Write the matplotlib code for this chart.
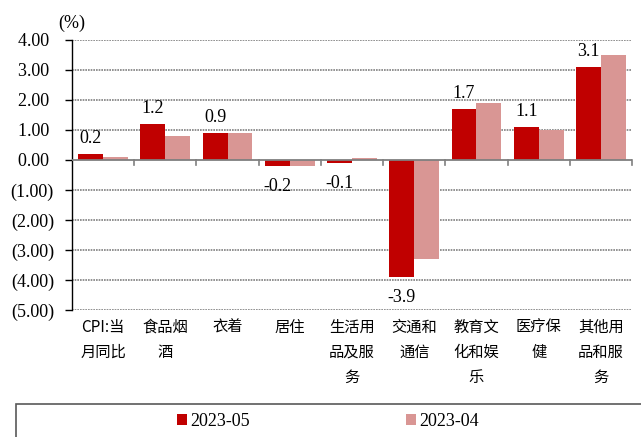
import numpy as np
import matplotlib.pyplot as plt
from matplotlib.patches import Rectangle
from matplotlib.ticker import FuncFormatter

# data
categories = ["CPI:当\n月同比", "食品烟\n酒", "衣着", "居住", "生活用\n品及服\n务",
              "交通和\n通信", "教育文\n化和娱\n乐", "医疗保\n健", "其他用\n品和服\n务"]
may_2023 = [0.2, 1.2, 0.9, -0.2, -0.1, -3.9, 1.7, 1.1, 3.1]
apr_2023 = [0.1, 0.8, 0.9, -0.2, 0.08, -3.3, 1.9, 1.0, 3.5]
series_names = ["2023-05", "2023-04"]

red = "#C00000"
pink = "#D99694"
num_font = ["Liberation Serif", "DejaVu Serif"]
cjk_font = ["Noto Sans CJK SC", "DejaVu Sans"]
fs = 13

fig = plt.figure(figsize=(6.41, 4.37), dpi=100)
ax = fig.add_axes([72 / 641, 1 - 310 / 437, 560 / 641, 270 / 437])

x = np.arange(len(categories))
w = 0.4
ax.bar(x - w / 2, may_2023, w, color=red, zorder=3, label=series_names[0])
ax.bar(x + w / 2, apr_2023, w, color=pink, zorder=3, label=series_names[1])

ax.set_xlim(-0.5, len(categories) - 0.5)
ax.set_ylim(-5, 4)
ax.set_yticks(np.arange(-5, 5, 1))


def fmt(v, pos):
    if v < 0:
        return "({:.2f})".format(-v)
    return "{:.2f} ".format(v)


ax.yaxis.set_major_formatter(FuncFormatter(fmt))
for t in ax.get_yticklabels():
    t.set_family(num_font)
    t.set_fontsize(fs)
ax.tick_params(axis="y", length=5, width=1, pad=8, color="black")

# grid
for v in np.arange(-5, 5, 1):
    if v != 0:
        ax.axhline(v, color="#7f7f7f", lw=1.2, ls=(0, (1, 0.6)), zorder=1)
ax.axhline(0, color="#7f7f7f", lw=1.3, zorder=4)

for s in ["top", "right", "bottom"]:
    ax.spines[s].set_visible(False)
ax.spines["left"].set_color("black")
ax.spines["left"].set_linewidth(1)

# category labels below the plot, boundary ticks on the zero line
ax.set_xticks([])
for i, lab in enumerate(categories):
    ax.text(i, -5.3, lab, ha="center", va="top", fontsize=11,
            family=cjk_font, linespacing=1.6)
for b in np.arange(0.5, len(categories), 1):
    ax.plot([b, b], [0, -0.17], color="#7f7f7f", lw=1.2, zorder=4, clip_on=False)

# data labels
for i, v in enumerate(may_2023):
    off = 11.5 if v >= 0 else -15
    ax.annotate("{:.1f}".format(v), (i - w / 2, v), xytext=(0, off),
                textcoords="offset points", ha="center", va="center",
                fontsize=fs, family=num_font, zorder=5)

fig.text(72 / 641, 1 - 23 / 437, "(%)", ha="center", va="center",
         fontsize=fs, family=num_font)

# legend
fig.patches.append(Rectangle((16 / 641, -0.05), 1, 0.05 + 33 / 437,
                             transform=fig.transFigure, fill=False,
                             edgecolor="#595959", lw=1.2))
fig.legend(loc="center", bbox_to_anchor=(328 / 641, 1 - 421 / 437), ncol=2,
           frameon=False, handlelength=0.55, handleheight=0.55,
           handletextpad=0.2, columnspacing=8.6,
           prop={"family": num_font, "size": fs})

fig.savefig("out.png", dpi=100)
